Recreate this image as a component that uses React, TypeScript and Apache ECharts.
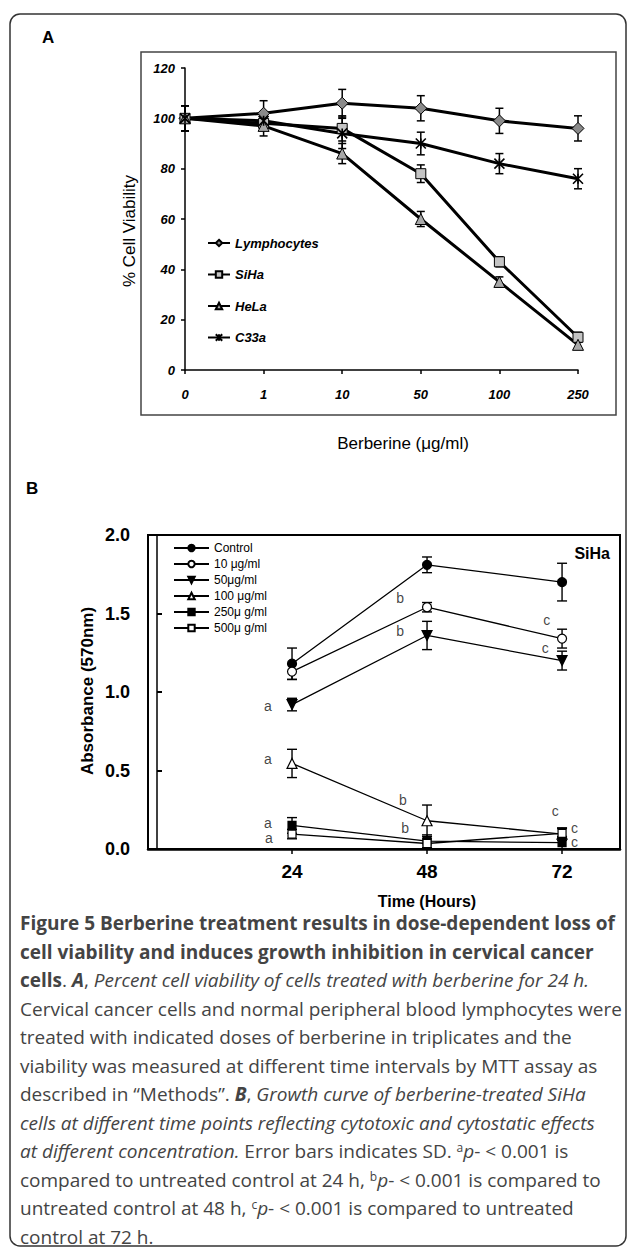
import React, { useEffect, useRef } from 'react';
import * as echarts from 'echarts';

// ---------- Panel A data ----------
const doseLabels = ['0', '1', '10', '50', '100', '250'];
const cellLines = ['Lymphocytes', 'SiHa', 'HeLa', 'C33a'];
const lymphocytes = [100, 102, 106, 104, 99, 96];
const lymphocytesSD = [5, 5, 5.5, 5, 5, 5];
const siha = [100, 98, 96, 78, 43, 13];
const sihaSD = [5, 2, 5, 3.5, 2, 2];
const hela = [100, 97, 86, 60, 35, 10];
const helaSD = [5, 4, 4, 3, 2, 1.5];
const c33a = [100, 99, 94, 90, 82, 76];
const c33aSD = [5, 3, 6, 4.5, 4, 4];

// ---------- Panel B data ----------
const hours = [24, 48, 72];
const doseGroups = ['Control', '10 μg/ml', '50μg/ml', '100 μg/ml', '250μ g/ml', '500μ g/ml'];
const control = [1.18, 1.81, 1.7];
const controlSD = [0.1, 0.05, 0.12];
const ug10 = [1.13, 1.54, 1.34];
const ug10SD = [0.05, 0.03, 0.06];
const ug50 = [0.92, 1.36, 1.2];
const ug50SD = [0.04, 0.09, 0.06];
const ug100 = [0.545, 0.18, 0.095];
const ug100SD = [0.09, 0.1, 0.04];
const ug250 = [0.15, 0.05, 0.04];
const ug250SD = [0.05, 0.04, 0.04];
const ug500 = [0.095, 0.035, 0.1];
const ug500SD = [0.03, 0.03, 0.03];

// significance letters (data coordinates of panel B)
const annText = ['b', 'b', 'c', 'c', 'a', 'a', 'b', 'c', 'a', 'b', 'c', 'a', 'c'];
const annX = [43.2, 43.2, 69.3, 69.0, 19.7, 19.7, 43.7, 70.8, 19.7, 44.1, 74.2, 19.9, 74.2];
const annY = [1.6, 1.39, 1.46, 1.28, 0.91, 0.575, 0.31, 0.24, 0.166, 0.134, 0.135, 0.07, 0.045];

// ---------- Caption ----------
const captionLines = [
  '{b|Figure 5 Berberine treatment results in dose-dependent loss of}',
  '{b|cell viability and induces growth inhibition in cervical cancer}',
  '{b|cells}{r|. }{bi|A}{r|, }{i|Percent cell viability of cells treated with berberine for 24 h.}',
  '{r|Cervical cancer cells and normal peripheral blood lymphocytes were}',
  '{r|treated with indicated doses of berberine in triplicates and the}',
  '{r|viability was measured at different time intervals by MTT assay as}',
  '{r|described in “Methods”. }{bi|B}{r|, }{i|Growth curve of berberine-treated SiHa}',
  '{i|cells at different time points reflecting cytotoxic and cytostatic effects}',
  '{i|at different concentration.}{r| Error bars indicates SD. }{sup|a}{i|p}{r|- < 0.001 is}',
  '{r|compared to untreated control at 24 h, }{sup|b}{i|p}{r|- < 0.001 is compared to}',
  '{r|untreated control at 48 h, }{sup|c}{i|p}{r|- < 0.001 is compared to untreated}',
  '{r|control at 72 h.}',
];

const SANS = '"Liberation Sans", Arial, sans-serif';
const CAP = '"Open Sans", "Noto Sans", sans-serif';

const errorBars = (capHalf: number, width: number) => (params: any, api: any) => {
  const x = api.value(0);
  const y = api.value(1);
  const e = api.value(2);
  const hi = api.coord([x, y + e]);
  const lo = api.coord([x, y - e]);
  const style = { stroke: '#000', lineWidth: width, fill: 'none' };
  return {
    type: 'group',
    children: [
      { type: 'line', shape: { x1: hi[0], y1: hi[1], x2: lo[0], y2: lo[1] }, style },
      { type: 'line', shape: { x1: hi[0] - capHalf, y1: hi[1], x2: hi[0] + capHalf, y2: hi[1] }, style },
      { type: 'line', shape: { x1: lo[0] - capHalf, y1: lo[1], x2: lo[0] + capHalf, y2: lo[1] }, style },
    ],
  };
};

export default function App() {
  const ref = useRef<HTMLDivElement>(null);

  useEffect(() => {
    if (!ref.current) return;
    const chart = echarts.init(ref.current, null, { renderer: 'svg' });

    const aLine = (name: string, values: number[], symbol: string, size: number, fill: string, border = 1) => ({
      name,
      type: 'line',
      xAxisIndex: 0,
      yAxisIndex: 0,
      data: values,
      symbol,
      symbolSize: size,
      showSymbol: true,
      z: 3,
      lineStyle: { color: '#000', width: 3 },
      itemStyle: { color: fill, borderColor: '#000', borderWidth: border },
    });
    const aErr = (values: number[], sd: number[]) => ({
      type: 'custom',
      xAxisIndex: 0,
      yAxisIndex: 0,
      z: 2,
      silent: true,
      renderItem: errorBars(4, 1.5),
      data: values.map((v, i) => [i, v, sd[i]]),
    });
    const bLine = (name: string, values: number[], symbol: string, size: number, fill: string, rotate = 0) => ({
      name,
      type: 'line',
      xAxisIndex: 1,
      yAxisIndex: 1,
      data: values.map((v, i) => [hours[i], v]),
      symbol,
      symbolSize: size,
      symbolRotate: rotate,
      showSymbol: true,
      z: 3,
      lineStyle: { color: '#000', width: 1.3 },
      itemStyle: { color: fill, borderColor: '#000', borderWidth: 1.2 },
    });
    const bErr = (values: number[], sd: number[]) => ({
      type: 'custom',
      xAxisIndex: 1,
      yAxisIndex: 1,
      z: 2,
      silent: true,
      renderItem: errorBars(5, 1.4),
      data: values.map((v, i) => [hours[i], v, sd[i]]),
    });

    const rich = {
      b: { fontFamily: CAP, fontSize: 19, fontWeight: 'bold', color: '#111' },
      bi: { fontFamily: CAP, fontSize: 19, fontWeight: 'bold', fontStyle: 'italic', color: '#111' },
      r: { fontFamily: CAP, fontSize: 19, color: '#444' },
      i: { fontFamily: CAP, fontSize: 19, fontStyle: 'italic', color: '#444' },
      sup: { fontFamily: CAP, fontSize: 12, color: '#444', verticalAlign: 'top', lineHeight: 12 },
    };

    const option: any = {
      animation: false,
      color: ['#000'],
      textStyle: { fontFamily: SANS },
      grid: [
        { left: 185, top: 68, width: 393, height: 302 },
        { left: 148, top: 535, width: 472, height: 314 },
      ],
      xAxis: [
        {
          gridIndex: 0,
          type: 'category',
          data: doseLabels,
          boundaryGap: false,
          axisLine: { lineStyle: { color: '#000', width: 1.5 } },
          axisTick: { length: 4, lineStyle: { color: '#000', width: 1.5 } },
          axisLabel: { color: '#000', fontSize: 13, fontWeight: 'bold', fontStyle: 'italic', margin: 18, fontFamily: SANS },
          splitLine: { show: false },
        },
        {
          gridIndex: 1,
          type: 'value',
          min: -1.6,
          max: 82.3,
          axisLine: { onZero: false, lineStyle: { color: '#000', width: 2.5 } },
          axisTick: { customValues: hours, length: 5, lineStyle: { color: '#000', width: 1.5 } },
          axisLabel: { customValues: hours, color: '#000', fontSize: 19, fontWeight: 'bold', margin: 13, fontFamily: SANS },
          splitLine: { show: false },
        },
      ],
      yAxis: [
        {
          gridIndex: 0,
          type: 'value',
          min: 0,
          max: 120,
          interval: 20,
          axisLine: { show: true, lineStyle: { color: '#000', width: 1.5 } },
          axisTick: { show: true, length: 4, lineStyle: { color: '#000', width: 1.5 } },
          axisLabel: { color: '#000', fontSize: 13, fontWeight: 'bold', fontStyle: 'italic', margin: 10, fontFamily: SANS },
          splitLine: { show: false },
        },
        {
          gridIndex: 1,
          type: 'value',
          min: 0,
          max: 2,
          interval: 0.5,
          axisLine: { show: true, lineStyle: { color: '#000', width: 1.5 } },
          axisTick: { show: true, inside: true, length: 5, lineStyle: { color: '#000', width: 2 } },
          axisLabel: {
            color: '#000', fontSize: 18, fontWeight: 'bold', margin: 18, fontFamily: SANS,
            formatter: (v: number) => v.toFixed(1),
          },
          splitLine: { show: false },
        },
      ],
      legend: [
        {
          data: cellLines,
          orient: 'vertical',
          left: 202,
          top: 231,
          itemWidth: 22,
          itemHeight: 8,
          itemGap: 17.5,
          textStyle: { fontSize: 13, fontWeight: 'bold', fontStyle: 'italic', color: '#000', lineHeight: 14, fontFamily: SANS },
        },
        {
          data: doseGroups,
          orient: 'vertical',
          left: 168,
          top: 536,
          itemWidth: 35,
          itemHeight: 8,
          itemGap: 2,
          textStyle: { fontSize: 12, color: '#000', lineHeight: 14, fontFamily: SANS },
        },
      ],
      series: [
        aErr(lymphocytes, lymphocytesSD),
        aErr(siha, sihaSD),
        aErr(hela, helaSD),
        aErr(c33a, c33aSD),
        aLine(cellLines[0], lymphocytes, 'diamond', 12, '#8a8a8a'),
        aLine(cellLines[1], siha, 'rect', 10, '#c4c4c4'),
        aLine(cellLines[2], hela, 'triangle', 11, '#a8a8a8'),
        aLine(cellLines[3], c33a, 'path://M0,0L10,10M10,0L0,10M5,0L5,10', 10, 'none', 1.6),
        bErr(control, controlSD),
        bErr(ug10, ug10SD),
        bErr(ug50, ug50SD),
        bErr(ug100, ug100SD),
        bErr(ug250, ug250SD),
        bErr(ug500, ug500SD),
        bLine(doseGroups[0], control, 'circle', 9, '#000'),
        bLine(doseGroups[1], ug10, 'circle', 9, '#fff'),
        bLine(doseGroups[2], ug50, 'triangle', 10, '#000', 180),
        bLine(doseGroups[3], ug100, 'triangle', 10, '#fff'),
        bLine(doseGroups[4], ug250, 'rect', 8, '#000'),
        bLine(doseGroups[5], ug500, 'rect', 8, '#fff'),
        {
          type: 'scatter',
          xAxisIndex: 1,
          yAxisIndex: 1,
          symbolSize: 1,
          itemStyle: { color: 'rgba(0,0,0,0)' },
          silent: true,
          z: 4,
          data: annX.map((x, i) => ({
            value: [x, annY[i]],
            label: { formatter: annText[i] },
          })),
          label: { show: true, position: 'inside', color: '#111', fontSize: 14, fontFamily: SANS, lineHeight: 12 },
        },
      ],
      graphic: [
        {
          type: 'rect',
          shape: { x: 10, y: 14, width: 616, height: 1232, r: 10 },
          style: { fill: 'none', stroke: '#333', lineWidth: 1.5 },
          silent: true,
        },
        {
          type: 'rect',
          shape: { x: 141, y: 52, width: 475, height: 363 },
          style: { fill: 'none', stroke: '#444', lineWidth: 1.5 },
          silent: true,
        },
        {
          type: 'rect',
          shape: { x: 148, y: 535, width: 472, height: 314 },
          style: { fill: 'none', stroke: '#000', lineWidth: 2 },
          silent: true,
        },
        { type: 'text', x: 42, y: 37, style: { text: 'A', fontFamily: SANS, fontSize: 17, fontWeight: 'bold', fill: '#000', verticalAlign: 'middle' } },
        { type: 'text', x: 26, y: 488, style: { text: 'B', fontFamily: SANS, fontSize: 17, fontWeight: 'bold', fill: '#000', verticalAlign: 'middle' } },
        {
          type: 'text', x: 129, y: 231, rotation: Math.PI / 2,
          style: { text: '% Cell Viability', fontFamily: SANS, fontSize: 17, fill: '#000', align: 'center', verticalAlign: 'middle' },
        },
        {
          type: 'text', x: 403, y: 443,
          style: { text: 'Berberine (μg/ml)', fontFamily: SANS, fontSize: 17, fill: '#000', align: 'center', verticalAlign: 'middle' },
        },
        {
          type: 'text', x: 610, y: 553,
          style: { text: 'SiHa', fontFamily: SANS, fontSize: 16, fontWeight: 'bold', fill: '#000', align: 'right', verticalAlign: 'middle' },
        },
        {
          type: 'text', x: 87, y: 691, rotation: Math.PI / 2,
          style: { text: 'Absorbance (570nm)', fontFamily: SANS, fontSize: 17, fontWeight: 'bold', fill: '#000', align: 'center', verticalAlign: 'middle' },
        },
        {
          type: 'text', x: 427, y: 901,
          style: { text: 'Time (Hours)', fontFamily: SANS, fontSize: 16, fontWeight: 'bold', fill: '#000', align: 'center', verticalAlign: 'middle' },
        },
        ...captionLines.map((line, i) => ({
          type: 'text',
          x: 20,
          y: 923 + i * 28.5,
          style: {
            text: line,
            rich,
            fontFamily: CAP,
            fontSize: 19,
            fill: '#444',
            verticalAlign: 'middle',
          },
        })),
      ],
    };

    chart.setOption(option);
    return () => chart.dispose();
  }, []);

  return (
    <div
      ref={ref}
      style={{ position: 'absolute', left: 0, top: 0, width: 629, height: 1249 }}
    />
  );
}
